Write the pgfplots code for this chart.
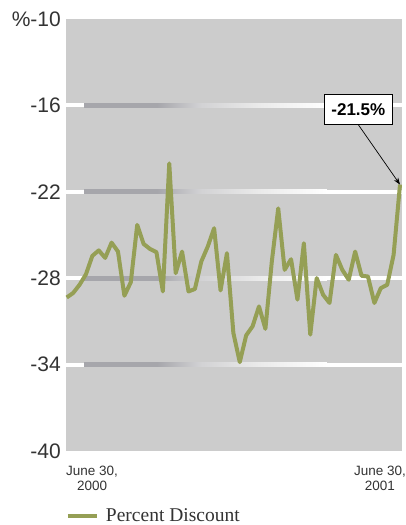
\documentclass[border=0pt]{standalone}
\usepackage{fontspec}
\setmainfont{Liberation Serif}
\newfontfamily\lsans{Liberation Sans}
\usepackage{pgfplots}
\pgfplotsset{compat=1.18}
\usetikzlibrary{arrows.meta}

\definecolor{bggray}{RGB}{204,204,204}
\definecolor{gridgray}{RGB}{166,166,171}
\definecolor{gridmid}{RGB}{210,210,212}
\definecolor{gridlight}{RGB}{234,234,234}
\definecolor{olive}{RGB}{149,159,85}
\definecolor{textgray}{RGB}{51,51,51}

% fading band laid over each white grid line
\pgfdeclarehorizontalshading{gridfade}{100bp}{%
  color(0bp)=(gridgray); color(25bp)=(gridgray); color(40bp)=(gridgray);
  color(49bp)=(gridmid); color(61bp)=(gridlight); color(75bp)=(white);
  color(100bp)=(white)}

\begin{document}
\begin{tikzpicture}
\useasboundingbox (-66pt,-74pt) rectangle (340pt,451pt);
\begin{axis}[
  at={(0pt,0pt)}, anchor=south west,
  scale only axis, width=336pt, height=432pt,
  xmin=-0.11, xmax=52.31, ymin=-40, ymax=-10,
  axis line style={draw=none},
  axis background/.style={fill=bggray},
  xtick=\empty,
  ytick={-40,-34,-28,-22,-16,-10},
  yticklabels={-40,-34,-28,-22,-16,\%-10},
  major tick length=0pt,
  yticklabel style={font=\lsans\fontsize{21}{24}\selectfont, text=textgray,
    anchor=east, inner sep=0pt, xshift=-5pt},
  clip=false,
  legend style={at={(axis description cs:0,-0.1674)}, anchor=south west,
    draw=none, fill=none, inner sep=0pt, outer sep=0pt,
    font=\fontsize{19.5}{22}\selectfont, text=textgray,
    nodes={inner sep=0pt},
    /tikz/every odd column/.append style={column sep=7pt}},
  legend cell align=left,
  legend image code/.code={\draw[#1, line width=4pt] (0pt,0pt) -- (29pt,0pt);},
]
% grid lines: white rule with a grey band fading out to the right
\foreach \g in {-34,-28,-22,-16}{
  \edef\tmp{\noexpand\draw[white, line width=4pt] (axis cs:-0.11,\g) -- (axis cs:52.31,\g);
    \noexpand\shade[shading=gridfade] ([yshift=-2pt]axis cs:2.7,\g) rectangle ([yshift=2pt]axis cs:40.6,\g);}
  \tmp
}

\addplot[olive, line width=4pt, line join=round] coordinates {
 (0,-29.34) (1,-29.03) (2,-28.46) (3,-27.73) (4,-26.45) (5,-26.07)
 (6,-26.59) (7,-25.53) (8,-26.15) (9,-29.22) (10,-28.28) (11,-24.30)
 (12,-25.62) (13,-25.97) (14,-26.19) (15,-28.92) (16,-20.03) (17,-27.65)
 (18,-26.15) (19,-28.92) (20,-28.75) (21,-26.84) (22,-25.81) (23,-24.53)
 (24,-28.85) (25,-26.26) (26,-31.80) (27,-33.83) (28,-31.97) (29,-31.34)
 (30,-29.96) (31,-31.52) (32,-26.84) (33,-23.15) (34,-27.42) (35,-26.68)
 (36,-29.49) (37,-25.57) (38,-31.92) (39,-27.99) (40,-29.15) (41,-29.72)
 (42,-26.38) (43,-27.42) (44,-28.11) (45,-26.15) (46,-27.83) (47,-27.88)
 (48,-29.72) (49,-28.69) (50,-28.46) (51,-26.38) (52,-21.5)
};
\addlegendentry{Percent Discount}

% callout for the latest value
\node[draw=black, line width=0.9pt, fill=white, minimum width=68.7pt,
  minimum height=30pt, inner sep=0pt,
  font=\lsans\bfseries\fontsize{17}{20}\selectfont] (lbl) at (axis cs:45.5,-16.27) {-21.5\%};
\draw[-{Stealth[length=7pt,width=5pt]}, line width=0.7pt] (lbl.south) -- (axis cs:52,-21.5);

% date labels under the axis
\node[anchor=base west, inner sep=0pt, text=textgray, font=\lsans\fontsize{13.5}{16}\selectfont]
  (d0) at ([yshift=-24pt]rel axis cs:0,0) {June 30,};
\node[anchor=base, inner sep=0pt, text=textgray, font=\lsans\fontsize{13.5}{16}\selectfont]
  at ([yshift=-15.7pt]d0.base) {2000};
\node[anchor=base east, inner sep=0pt, text=textgray, font=\lsans\fontsize{13.5}{16}\selectfont]
  (d1) at ([xshift=4pt,yshift=-24pt]rel axis cs:1,0) {June 30,};
\node[anchor=base, inner sep=0pt, text=textgray, font=\lsans\fontsize{13.5}{16}\selectfont]
  at ([yshift=-15.7pt]d1.base) {2001};
\end{axis}
\end{tikzpicture}
\end{document}
